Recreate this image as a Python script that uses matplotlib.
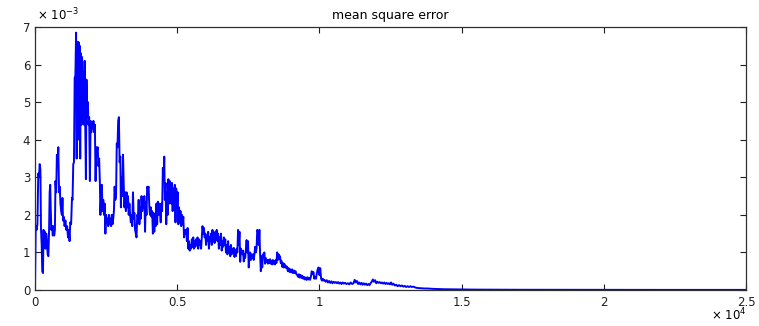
import matplotlib
matplotlib.use("Agg")
import matplotlib.pyplot as plt

# iteration number and mean square error (in units of 1e-3)
iters = [
    0, 25, 55, 85, 115, 140, 165, 190, 210, 235, 255, 280, 300, 320, 345, 370, 395, 420, 445, 470,
    495, 515, 535, 555, 575, 600, 625, 650, 675, 700, 720, 745, 770, 795, 820, 845, 870, 895, 920, 945,
    965, 985, 1010, 1040, 1070, 1100, 1130, 1160, 1190, 1215, 1240, 1270, 1300, 1320, 1345, 1370, 1395, 1420, 1445, 1465,
    1485, 1505, 1530, 1550, 1570, 1590, 1610, 1635, 1655, 1675, 1700, 1720, 1745, 1765, 1790, 1810, 1835, 1860, 1880, 1905,
    1930, 1955, 1980, 2005, 2030, 2055, 2080, 2105, 2130, 2155, 2180, 2205, 2230, 2255, 2280, 2300, 2325, 2350, 2375, 2400,
    2425, 2450, 2475, 2500, 2525, 2550, 2575, 2600, 2625, 2650, 2675, 2700, 2725, 2750, 2775, 2800, 2825, 2850, 2875, 2900,
    2925, 2950, 2975, 3000, 3020, 3045, 3070, 3095, 3120, 3145, 3170, 3195, 3220, 3245, 3270, 3295, 3320, 3345, 3370, 3395,
    3420, 3445, 3470, 3495, 3520, 3545, 3570, 3595, 3620, 3645, 3670, 3695, 3720, 3745, 3770, 3795, 3820, 3845, 3870, 3895,
    3920, 3945, 3970, 3995, 4020, 4045, 4070, 4095, 4120, 4145, 4170, 4195, 4220, 4245, 4270, 4295, 4320, 4345, 4370, 4395,
    4420, 4445, 4470, 4495, 4520, 4545, 4565, 4590, 4615, 4640, 4665, 4690, 4715, 4740, 4765, 4790, 4815, 4840, 4865, 4890,
    4915, 4940, 4965, 4990, 5015, 5040, 5065, 5090, 5115, 5140, 5165, 5190, 5215, 5240, 5265, 5290, 5315, 5340, 5365, 5390,
    5415, 5440, 5465, 5490, 5515, 5540, 5565, 5590, 5615, 5640, 5665, 5690, 5715, 5740, 5765, 5790, 5815, 5840, 5865, 5890,
    5915, 5940, 5965, 5990, 6015, 6040, 6065, 6090, 6115, 6140, 6165, 6190, 6215, 6240, 6265, 6290, 6315, 6340, 6365, 6390,
    6415, 6440, 6465, 6490, 6515, 6540, 6565, 6590, 6615, 6640, 6665, 6690, 6715, 6740, 6765, 6790, 6815, 6840, 6865, 6890,
    6915, 6940, 6965, 6990, 7015, 7040, 7065, 7090, 7115, 7140, 7165, 7190, 7215, 7240, 7265, 7290, 7315, 7340, 7365, 7390,
    7415, 7440, 7465, 7490, 7515, 7540, 7565, 7590, 7615, 7640, 7665, 7690, 7715, 7740, 7765, 7790, 7815, 7840, 7865, 7890,
    7915, 7940, 7965, 7990, 8015, 8040, 8065, 8090, 8115, 8140, 8165, 8190, 8215, 8240, 8265, 8290, 8315, 8340, 8365, 8390,
    8415, 8440, 8465, 8490, 8515, 8540, 8565, 8590, 8615, 8640, 8665, 8690, 8715, 8740, 8765, 8790, 8815, 8840, 8865, 8890,
    8920, 8950, 8980, 9010, 9040, 9070, 9100, 9130, 9160, 9190, 9220, 9250, 9280, 9310, 9340, 9370, 9400, 9430, 9460, 9490,
    9520, 9550, 9580, 9610, 9640, 9670, 9700, 9730, 9760, 9790, 9820, 9850, 9880, 9910, 9940, 9970, 10000, 10030, 10060, 10090,
    10120, 10150, 10180, 10220, 10260, 10300, 10340, 10380, 10420, 10460, 10500, 10540, 10580, 10620, 10660, 10700, 10740, 10780, 10820, 10860,
    10900, 10950, 11000, 11050, 11100, 11150, 11200, 11240, 11280, 11320, 11360, 11400, 11440, 11480, 11520, 11560, 11600, 11640, 11680, 11720,
    11760, 11800, 11840, 11880, 11920, 11960, 12000, 12040, 12080, 12120, 12160, 12200, 12240, 12280, 12320, 12360, 12400, 12440, 12480, 12520,
    12560, 12600, 12650, 12700, 12750, 12800, 12850, 12900, 12950, 13000, 13050, 13100, 13150, 13200, 13250, 13300, 13400, 13500, 13600, 13700,
    13800, 13900, 14000, 14200, 14400, 14600, 14800, 15000, 15500, 16000, 17000, 18000, 20000, 22000, 25000,
]
mse = [
    0.0, 1.7, 1.6, 1.75, 3.1, 3.0, 3.35, 3.2, 1.65, 1.2, 0.5, 0.45, 1.6, 1.3, 1.55, 1.1, 1.5, 1.3, 0.95, 0.9,
    1.6, 2.6, 2.8, 2.1, 1.6, 1.7, 1.45, 1.7, 1.45, 1.6, 2.9, 2.6, 3.6, 3.3, 3.8, 2.6, 2.75, 2.3, 2.1, 2.0,
    2.45, 1.85, 1.95, 1.7, 1.85, 1.6, 1.7, 1.4, 1.6, 1.3, 1.8, 1.75, 2.45, 2.4, 3.35, 3.4, 5.65, 5.7, 6.85, 3.5,
    6.6, 4.3, 6.6, 4.0, 6.5, 3.5, 6.3, 4.4, 6.2, 4.6, 5.8, 4.4, 6.1, 4.5, 2.95, 5.6, 4.6, 5.0, 4.4, 4.6,
    2.9, 4.5, 4.2, 4.4, 4.3, 4.5, 4.2, 4.4, 2.9, 3.8, 3.7, 3.8, 3.3, 3.5, 2.9, 2.0, 2.5, 2.8, 2.1, 2.4,
    2.0, 2.3, 1.5, 2.0, 1.8, 1.9, 1.7, 2.0, 1.75, 1.9, 1.7, 2.0, 1.75, 1.9, 2.1, 2.75, 2.4, 2.5, 3.9, 3.8,
    4.5, 4.6, 3.4, 3.55, 2.2, 3.0, 2.5, 3.6, 2.8, 2.2, 2.6, 2.1, 2.6, 2.2, 2.5, 2.0, 2.3, 2.0, 1.8, 2.0,
    1.7, 2.6, 1.9, 2.05, 1.6, 1.5, 1.4, 2.0, 1.95, 2.4, 1.75, 2.2, 1.9, 2.5, 2.1, 2.45, 2.2, 2.5, 1.55, 2.35,
    2.0, 2.75, 2.7, 2.75, 2.2, 2.0, 2.2, 1.95, 2.1, 1.5, 2.05, 1.55, 2.0, 1.7, 2.3, 1.75, 2.35, 2.0, 2.3, 2.1,
    1.8, 2.3, 2.1, 3.25, 2.9, 3.55, 2.4, 2.85, 1.75, 2.6, 2.0, 2.95, 2.3, 2.9, 2.5, 2.3, 2.85, 2.1, 2.7, 2.2,
    2.8, 1.8, 2.7, 2.2, 2.6, 1.75, 2.2, 1.8, 2.1, 1.7, 2.0, 1.75, 1.95, 1.4, 1.6, 1.5, 1.6, 1.3, 1.65, 1.1,
    1.3, 1.05, 1.2, 1.1, 1.35, 1.15, 1.4, 1.1, 1.3, 1.15, 1.35, 1.2, 1.4, 1.1, 1.35, 1.2, 1.3, 1.1, 1.4, 1.7,
    1.5, 1.65, 1.4, 1.5, 1.2, 1.45, 1.3, 1.55, 1.1, 1.4, 1.3, 1.5, 1.2, 1.6, 1.3, 1.5, 1.25, 1.55, 1.4, 1.6,
    1.3, 1.5, 1.1, 1.4, 1.2, 1.5, 1.05, 1.3, 1.15, 1.4, 1.2, 1.35, 1.0, 1.2, 0.95, 1.3, 1.0, 1.15, 0.9, 1.2,
    0.95, 1.1, 1.0, 1.12, 0.88, 1.05, 0.9, 1.1, 1.0, 1.6, 1.2, 1.55, 0.75, 1.1, 1.0, 0.95, 1.05, 0.76, 0.95, 0.85,
    1.1, 1.33, 1.0, 1.3, 0.6, 0.9, 1.0, 0.8, 0.95, 0.85, 0.95, 0.8, 0.95, 1.15, 1.0, 1.1, 1.6, 1.55, 1.2, 1.6,
    0.95, 0.5, 0.9, 0.6, 0.95, 0.9, 1.0, 0.7, 0.85, 0.75, 0.8, 0.7, 0.8, 0.72, 0.82, 0.7, 0.78, 0.68, 0.8, 0.7,
    0.77, 0.68, 0.8, 0.72, 1.0, 0.8, 0.95, 0.82, 0.9, 0.72, 0.78, 0.62, 0.72, 0.6, 0.7, 0.6, 0.65, 0.58, 0.62, 0.5,
    0.58, 0.48, 0.55, 0.47, 0.55, 0.45, 0.52, 0.45, 0.5, 0.42, 0.4, 0.35, 0.42, 0.33, 0.4, 0.32, 0.38, 0.3, 0.35, 0.28,
    0.33, 0.27, 0.34, 0.28, 0.32, 0.27, 0.35, 0.5, 0.42, 0.48, 0.3, 0.35, 0.3, 0.45, 0.55, 0.6, 0.4, 0.58, 0.3, 0.25,
    0.3, 0.25, 0.27, 0.22, 0.26, 0.2, 0.24, 0.19, 0.23, 0.18, 0.22, 0.19, 0.21, 0.18, 0.21, 0.17, 0.2, 0.16, 0.2, 0.17,
    0.19, 0.16, 0.18, 0.15, 0.2, 0.16, 0.18, 0.27, 0.2, 0.24, 0.16, 0.2, 0.15, 0.19, 0.14, 0.18, 0.14, 0.17, 0.13, 0.16,
    0.13, 0.18, 0.22, 0.28, 0.22, 0.26, 0.18, 0.22, 0.19, 0.21, 0.18, 0.2, 0.17, 0.2, 0.16, 0.19, 0.16, 0.18, 0.15, 0.2,
    0.14, 0.17, 0.12, 0.14, 0.1, 0.13, 0.1, 0.12, 0.09, 0.11, 0.08, 0.1, 0.08, 0.1, 0.08, 0.09, 0.06, 0.05, 0.045, 0.04,
    0.04, 0.035, 0.03, 0.025, 0.02, 0.018, 0.015, 0.012, 0.01, 0.008, 0.006, 0.005, 0.004, 0.003, 0.003,
]
mse = [v * 1e-3 for v in mse]

xticks = [0, 5000, 10000, 15000, 20000, 25000]
xlabels = ["0", "0.5", "1", "1.5", "2", "2.5"]
yticks = [i * 1e-3 for i in range(8)]
ylabels = [str(i) for i in range(8)]

plt.rcParams['font.family'] = ['DejaVu Sans']

fig = plt.figure(figsize=(7.59, 3.26), dpi=100)
ax = fig.add_axes([35 / 759, 1 - 290 / 326, 711 / 759, 263 / 326])

ax.plot(iters, mse, color=(0, 0, 1), lw=1.4)

ax.set_xlim(0, 25000)
ax.set_ylim(0, 7e-3)
ax.set_xticks(xticks)
ax.set_xticklabels(xlabels)
ax.set_yticks(yticks)
ax.set_yticklabels(ylabels)
ax.tick_params(direction="in", length=4, width=0.8, labelsize=8.5,
               top=True, right=True, colors="#202020")
ax.tick_params(axis="x", pad=4)
for s in ax.spines.values():
    s.set_color("#303030")
    s.set_linewidth(0.9)

ax.set_title("mean square error", fontsize=9, pad=6)
ax.text(0.003, 1.015, r"$\times$ 10$^{-3}$", transform=ax.transAxes,
        fontsize=8.5, ha="left", va="bottom")
ax.text(1.0, -0.125, r"$\times$ 10$^{4}$", transform=ax.transAxes,
        fontsize=8.5, ha="right", va="bottom")

fig.savefig("out.png", dpi=100)
